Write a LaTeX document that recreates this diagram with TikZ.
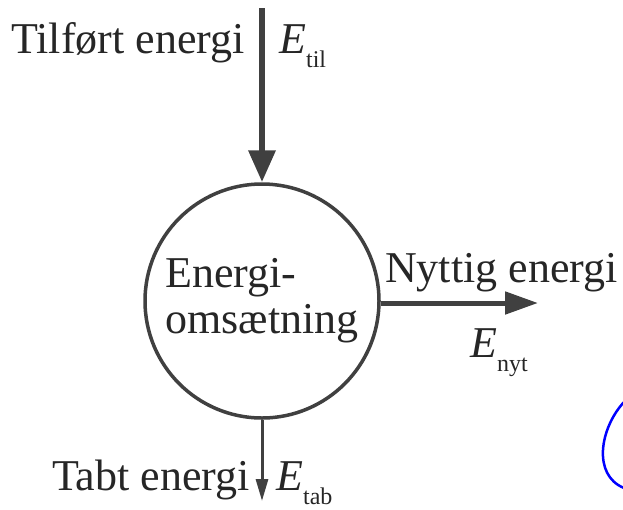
\documentclass[tikz,border=0pt]{standalone}
\usepackage{fontspec}
\setmainfont{Liberation Serif}
\usetikzlibrary{positioning,arrows.meta}

\newcommand{\Esub}[1]{\textit{E}\raisebox{-0.32em}{\fontsize{24}{24}\selectfont #1}}

\begin{document}
\begin{tikzpicture}[
x=1pt,y=-1pt,
font=\fontsize{44}{46}\selectfont,
lbl/.style={inner sep=0pt,text=black!85},
flow/.style={draw=black!75,line width=#1},
conversion/.style={
circle,draw=black!75,line width=3.5pt,
minimum size=234pt,inner sep=0pt,
align=left,text=black!85
}
]
\useasboundingbox (0,0) rectangle (623,509);

% CONVERSION
\node[conversion] (conv) at (262,301) {Energi-\\omsætning};

% FLOWS
\coordinate (til) at (262,8);
\coordinate (nyt) at (538,303);
\coordinate (tab) at (262,501);

\draw[flow=6.5pt,-{Triangle[length=32pt,width=26pt]}] (til) -- (conv.north);
\draw[flow=5pt,-{Triangle[length=33pt,width=22pt]}] (conv.east |- nyt) -- (nyt);
\draw[flow=3pt,-{Triangle[length=22pt,width=12pt]}] (conv.south) -- (tab);

% LABELS
\node[lbl,anchor=base east] (tilfort) at (245,53) {Tilført energi};
\node[lbl,anchor=base west] (etil) at (279,53) {\Esub{til}};

\node[lbl,anchor=base west] (nyttig) at (385,282) {Nyttig energi};
\node[lbl,anchor=base west] (enyt) at (470,357) {\Esub{nyt}};

\node[lbl,anchor=base east] (tabt) at (250,490) {Tabt energi};
\node[lbl,anchor=base west] (etab) at (276,490) {\Esub{tab}};

% MARK
\draw[blue,line width=2.5pt] (624,402) .. controls (600,428) and (592,475) .. (624,488);

\end{tikzpicture}
\end{document}
